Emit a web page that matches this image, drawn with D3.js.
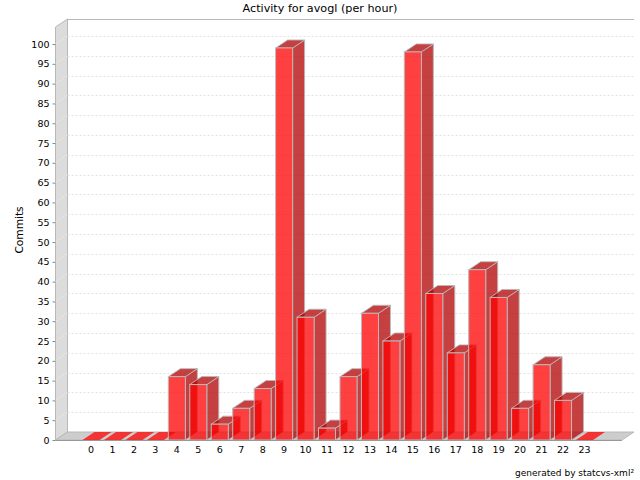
<!DOCTYPE html>
<html>
<head>
<meta charset="utf-8">
<script src="https://cdn.jsdelivr.net/npm/d3@7"></script>
<style>
html, body { margin: 0; padding: 0; background: #fff; }
svg { display: block; }
text { font-family: "DejaVu Sans", sans-serif; fill: #000; }
</style>
</head>
<body>
<svg class="chart" width="640" height="480"></svg>
<script>
// values
var hours = ["0","1","2","3","4","5","6","7","8","9","10","11","12","13","14","15","16","17","18","19","20","21","22","23"];
var commits = [0,0,0,0,16,14,4,8,13,99,31,3,16,32,25,98,37,22,43,36,8,19,10,0];
var yTicks = d3.range(0, 101, 5);

var svg = d3.select(".chart");

// depth of the fake 3d effect
var dx = 12, dy = -8;
var plotLeft = 55.5, plotRight = 622, plotBottom = 440, plotTop = 27;

var y = d3.scaleLinear().domain([0, 104.3]).range([plotBottom, plotTop]);
var x = d3.scaleBand()
    .domain(hours)
    .range([80.3, 595.2])
    .paddingInner(0.207)
    .paddingOuter(0.1035);

function poly(points) {
    return points.map(p => p.join(",")).join(" ");
}

// left wall, floor and top edge
svg.append("polygon")
    .attr("points", poly([[plotLeft, plotTop], [plotLeft + dx, plotTop + dy], [plotLeft + dx, plotBottom + dy], [plotLeft, plotBottom]]))
    .attr("fill", "#dcdcdc").attr("stroke", "#b8b8b8");
svg.append("polygon")
    .attr("points", poly([[plotLeft, plotBottom], [plotLeft + dx, plotBottom + dy], [plotRight + dx, plotBottom + dy], [plotRight, plotBottom]]))
    .attr("fill", "#cdcdcd").attr("stroke", "#b8b8b8");
svg.append("line")
    .attr("x1", plotLeft + dx).attr("x2", plotRight + dx)
    .attr("y1", plotTop + dy + 0.5).attr("y2", plotTop + dy + 0.5)
    .attr("stroke", "#b8b8b8");

// grid lines on the back wall and across the left wall
var gridTicks = yTicks.slice(1);
svg.selectAll(".grid-back").data(gridTicks).enter().append("line")
    .attr("class", "grid-back")
    .attr("x1", plotLeft + dx).attr("x2", plotRight + dx)
    .attr("y1", d => Math.round(y(d) + dy) + 0.5).attr("y2", d => Math.round(y(d) + dy) + 0.5)
    .attr("stroke", "#e2e2e2").attr("stroke-dasharray", "2,2");
svg.selectAll(".grid-side").data(gridTicks).enter().append("line")
    .attr("class", "grid-side")
    .attr("x1", plotLeft).attr("x2", plotLeft + dx)
    .attr("y1", d => y(d)).attr("y2", d => y(d) + dy)
    .attr("stroke", "#ececec").attr("stroke-dasharray", "2,2");

// bars, left to right so the later ones sit over the earlier sides
var bars = svg.selectAll(".bar")
    .data(hours.map((h, i) => ({ hour: h, value: commits[i] })))
    .enter().append("g")
    .attr("class", "bar");

var w = x.bandwidth();

bars.append("polygon") // side
    .attr("points", d => {
        var x1 = x(d.hour) + w, yt = y(d.value);
        return poly([[x1, yt], [x1 + dx, yt + dy], [x1 + dx, plotBottom + dy], [x1, plotBottom]]);
    })
    .attr("fill", "rgba(178,0,0,0.75)").attr("stroke", d => d.value === 0 ? "none" : "rgba(185,185,185,0.9)");
bars.append("polygon") // top
    .attr("points", d => {
        var x0 = x(d.hour), yt = y(d.value);
        return poly([[x0, yt], [x0 + dx, yt + dy], [x0 + w + dx, yt + dy], [x0 + w, yt]]);
    })
    .attr("fill", d => d.value === 0 ? "rgba(255,0,0,0.75)" : "rgba(178,0,0,0.75)")
    .attr("stroke", d => d.value === 0 ? "none" : "rgba(185,185,185,0.9)");
bars.append("rect") // front
    .attr("x", d => x(d.hour))
    .attr("y", d => y(d.value))
    .attr("width", w)
    .attr("height", d => plotBottom - y(d.value))
    .attr("fill", "rgba(255,0,0,0.75)")
    .attr("stroke", d => d.value === 0 ? "none" : "#bababa");

// axes
var yAxis = d3.axisLeft(y).tickValues(yTicks).tickSize(3).tickPadding(3);
var gy = svg.append("g").attr("transform", `translate(${plotLeft},0)`).call(yAxis);
gy.select(".domain").remove();
gy.selectAll("line").attr("stroke", "#888");
gy.selectAll("text").style("font-size", "9.5px");

var xAxis = d3.axisBottom(x).tickSize(0).tickPadding(6);
var gx = svg.append("g").attr("transform", `translate(0,${plotBottom})`).call(xAxis);
gx.select(".domain").remove();
gx.selectAll("text").style("font-size", "9.5px");

svg.append("line")
    .attr("x1", plotLeft).attr("x2", plotRight)
    .attr("y1", plotBottom + 0.5).attr("y2", plotBottom + 0.5)
    .attr("stroke", "#999");

svg.append("text")
    .attr("x", 320).attr("y", 12)
    .attr("text-anchor", "middle")
    .style("font-size", "11.2px")
    .text("Activity for avogl (per hour)");

svg.append("text")
    .attr("transform", "translate(23,230) rotate(-90)")
    .attr("text-anchor", "middle")
    .style("font-size", "10.6px")
    .text("Commits");

svg.append("text")
    .attr("x", 634).attr("y", 476)
    .attr("text-anchor", "end")
    .style("font-size", "9px")
    .text("generated by statcvs-xml²");
</script>
</body>
</html>
